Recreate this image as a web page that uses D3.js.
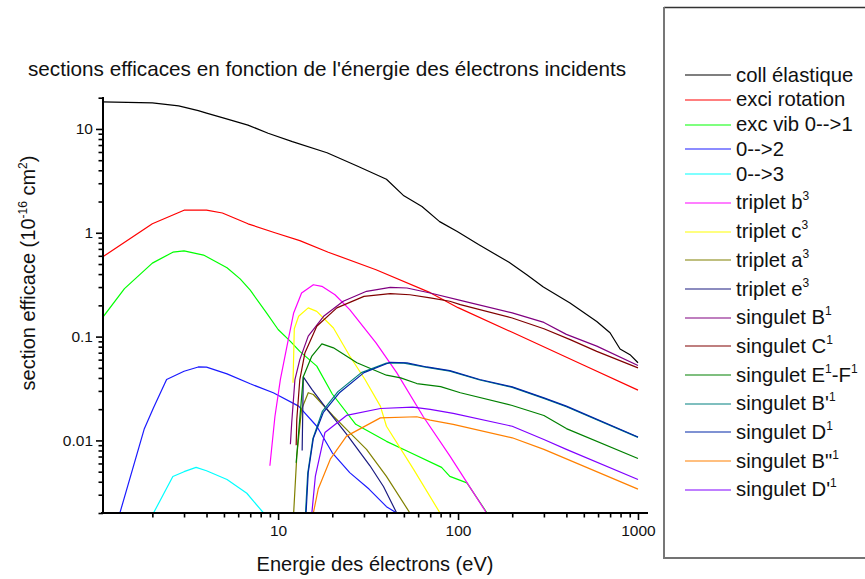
<!DOCTYPE html>
<html>
<head>
<meta charset="utf-8">
<script src="https://cdn.jsdelivr.net/npm/d3@7"></script>
<style>
  body { margin: 0; background: #fff; }
  text { font-family: Arial, "Liberation Sans", sans-serif; fill: #111; }
</style>
</head>
<body>
<svg id="chart"></svg>
<script>
// chart data: [energy eV, cross section 1e-16 cm2]
const collElastique = [[1.05,18.2],[2,17.8],[2.8,16.7],[3.6,15.0],[4,14.2],[5,12.7],[6.8,10.9],[8.8,9.1],[12,7.55],[18.7,5.9],[27.5,4.4],[40,3.28],[50,2.27],[63,1.79],[79,1.28],[99,1.03],[130,0.77],[192,0.52],[241,0.395],[298,0.30],[419,0.211],[590,0.14],[699,0.109],[795,0.076],[903,0.067],[1000,0.056]];
const exciRotation = [[1.05,0.58],[2,1.22],[3,1.65],[4,1.65],[4.9,1.55],[6.8,1.22],[9.6,1.0],[13.2,0.84],[19,0.65],[35,0.44],[70,0.265],[100,0.19],[200,0.11],[500,0.053],[1000,0.0305]];
const vib01 = [[1.05,0.15],[1.4,0.29],[2,0.51],[2.6,0.65],[3,0.67],[3.85,0.61],[5.2,0.46],[6.15,0.36],[7,0.28],[8.6,0.17],[10,0.117],[11.7,0.09],[13.2,0.072],[16.4,0.052],[20,0.028],[27,0.0143],[40,0.0098],[52,0.0079],[81,0.0055],[90,0.0045],[112,0.0039],[145,0.002]];
const vib02 = [[1.32,0.002],[1.8,0.0128],[2.03,0.0206],[2.4,0.0386],[3,0.0464],[3.6,0.051],[4,0.0508],[5.2,0.0438],[7,0.0351],[9.4,0.0288],[13,0.0214],[16.4,0.0137],[20,0.0076],[25,0.0049],[32,0.0034],[40,0.0023],[45.6,0.002]];
const vib03 = [[2.03,0.002],[2.6,0.0045],[3,0.005],[3.5,0.0055],[4,0.0051],[5.2,0.0042],[6.7,0.0031],[8.3,0.002]];
const tripletB = [[9.0,0.0057],[9.6,0.017],[10.3,0.039],[11.2,0.081],[12.2,0.169],[13.5,0.263],[15.7,0.316],[17.5,0.305],[20.7,0.253],[25,0.182],[35,0.087],[45.6,0.045],[64,0.017],[90,0.0071],[144,0.002]];
const tripletC = [[12.1,0.036],[12.3,0.119],[13,0.157],[14.7,0.189],[16.4,0.175],[20.3,0.121],[25,0.065],[30.4,0.0386],[37,0.0214],[40,0.0137],[56.5,0.0053],[79.4,0.002]];
const tripletA = [[12.2,0.002],[12.7,0.0071],[13.5,0.020],[14.7,0.0288],[15.7,0.0277],[20.3,0.0171],[25,0.0119],[31,0.0082],[40,0.0045],[54,0.002]];
const tripletE = [[13.6,0.008],[13.8,0.041],[15.4,0.031],[18.7,0.0199],[24,0.0115],[32.4,0.0057],[38.5,0.0036],[45.6,0.002]];
const singB = [[11.7,0.0092],[11.9,0.0148],[12.4,0.0386],[13.2,0.06],[14.7,0.101],[17.9,0.157],[23,0.219],[31,0.273],[42,0.298],[52,0.294],[70,0.263],[103,0.223],[200,0.169],[300,0.137],[400,0.105],[590,0.081],[1000,0.0526]];
const singC = [[12.6,0.009],[12.7,0.016],[13.2,0.0386],[14.1,0.07],[16.4,0.126],[21.2,0.189],[30,0.244],[42,0.259],[54,0.253],[70,0.236],[90,0.219],[103,0.203],[200,0.151],[300,0.119],[420,0.0935],[590,0.072],[1000,0.05]];
const singEF = [[12.6,0.0061],[13,0.0119],[13.8,0.041],[15.4,0.065],[17.5,0.085],[20.3,0.078],[27.4,0.056],[40,0.0425],[48,0.040],[59,0.0353],[80,0.033],[103,0.0288],[200,0.0217],[300,0.0174],[400,0.013],[1000,0.0067]];
const singBp = [[14.2,0.002],[14.6,0.0048],[15.6,0.0104],[17.6,0.019],[21.5,0.0295],[29,0.045],[40,0.0555],[50,0.0556],[67,0.0505],[90,0.0465],[132,0.0382],[200,0.0324],[300,0.0254],[400,0.0211],[1000,0.0107]];
const singD = [[14.3,0.002],[14.7,0.0049],[15.7,0.0105],[17.8,0.0185],[22,0.029],[30,0.045],[42,0.0566],[52,0.0558],[67,0.051],[90,0.047],[132,0.0386],[200,0.0328],[300,0.0257],[400,0.0214],[1000,0.0108]];
const singBpp = [[15.7,0.002],[16.7,0.0034],[19.5,0.0066],[24,0.011],[37,0.0165],[59,0.0169],[70,0.0157],[94,0.0143],[200,0.0106],[300,0.0082],[1000,0.0034]];
const singDp = [[15.4,0.002],[16.1,0.0045],[18.2,0.0119],[24,0.0174],[37,0.0203],[56,0.0209],[70,0.0199],[94,0.0182],[200,0.0137],[300,0.0102],[400,0.0082],[1000,0.0042]];

// legend labels ({..} = superscript) and colours, same order
const labels = ["coll élastique","exci rotation","exc vib 0-->1","0-->2","0-->3","triplet b{3}","triplet c{3}","triplet a{3}","triplet e{3}","singulet B{1}","singulet C{1}","singulet E{1}-F{1}","singulet B'{1}",'singulet D{1}','singulet B"{1}',"singulet D'{1}"];
const colors = ["#000000","#ff0000","#00ff00","#1a1aff","#00ffff","#ff00ff","#ffff00","#808000","#1a1a80","#800080","#800000","#008000","#008080","#0026a8","#ff8000","#8000ff"];
const seriesData = [collElastique,exciRotation,vib01,vib02,vib03,tripletB,tripletC,tripletA,tripletE,singB,singC,singEF,singBp,singD,singBpp,singDp];

const yMajor = [0.01, 0.1, 1, 10];
const xMajor = [10, 100, 1000];

const width = 865, height = 579;
const svg = d3.select("#chart").attr("width", width).attr("height", height);

const x = d3.scaleLog().domain([1.05, 1108]).range([102, 646]);
const y = d3.scaleLog().domain([0.002, 20]).range([513, 97.7]);

// minor ticks 2..9 in each decade
function logTicks(lo, hi) {
  const t = [];
  for (let p = -4; p <= 4; p++) {
    for (let m = 1; m < 10; m++) {
      const v = +(m * Math.pow(10, p)).toPrecision(3);
      if (v >= lo * 0.999 && v <= hi * 1.001) t.push(v);
    }
  }
  return t;
}
const isMajor = (list) => (v) => list.some((m) => Math.abs(m - v) / m < 1e-6);

svg.append("defs").append("clipPath").attr("id", "plotclip")
  .append("rect").attr("x", 102).attr("y", 97).attr("width", 545).attr("height", 416.5);

// lines
const line = d3.line().x((d) => x(d[0])).y((d) => y(d[1]));
svg.append("g").attr("clip-path", "url(#plotclip)")
  .selectAll("path")
  .data(seriesData)
  .join("path")
  .attr("d", line)
  .attr("fill", "none")
  .attr("stroke", (d, i) => colors[i])
  .attr("stroke-width", 1.2)
  .attr("stroke-linejoin", "round");

// x axis
const xMaj = isMajor(xMajor);
const xAxis = svg.append("g")
  .attr("transform", "translate(0,513)")
  .call(d3.axisBottom(x).tickValues(logTicks(1.05, 1108)).tickSizeOuter(0).tickSizeInner(6)
    .tickFormat((d) => (xMaj(d) ? d3.format("d")(d) : "")));
xAxis.select(".domain").attr("stroke", "#000").attr("stroke-width", 2).attr("d", "M101,0H648");
xAxis.selectAll(".tick line").attr("stroke-width", 1.6).attr("y2", (d) => (xMaj(d) ? 7 : 4.5));
xAxis.selectAll(".tick").filter((d) => !xMaj(d)).select("text").remove();
xAxis.selectAll(".tick text").attr("y", 12).attr("font-size", 15.5).attr("fill", "#111")
  .attr("font-family", "Arial, 'Liberation Sans', sans-serif");

// y axis
const yMaj = isMajor(yMajor);
const yAxis = svg.append("g")
  .attr("transform", "translate(103,0)")
  .call(d3.axisLeft(y).tickValues(logTicks(0.002, 20)).tickSizeOuter(0).tickSizeInner(6)
    .tickFormat((d) => (yMaj(d) ? String(d) : "")));
yAxis.select(".domain").attr("stroke", "#000").attr("stroke-width", 2).attr("d", "M0,97V514");
yAxis.selectAll(".tick line").attr("stroke-width", 1.6).attr("x2", (d) => (yMaj(d) ? -7 : -4.5));
yAxis.selectAll(".tick").filter((d) => !yMaj(d)).select("text").remove();
yAxis.selectAll(".tick text").attr("x", -10).attr("font-size", 15.5).attr("fill", "#111")
  .attr("font-family", "Arial, 'Liberation Sans', sans-serif");

// helper: write text with {..} superscripts
function richText(sel, str, supSize, rise) {
  const parts = str.split(/(\{[^}]*\})/).filter((s) => s.length);
  parts.forEach((p) => {
    if (p[0] === "{") {
      sel.append("tspan").attr("baseline-shift", rise).attr("font-size", supSize).text(p.slice(1, -1));
    } else {
      sel.append("tspan").text(p);
    }
  });
}

// title and axis labels
svg.append("text").attr("x", 28).attr("y", 76).attr("font-size", 20.7)
  .text("sections efficaces en fonction de l'énergie des électrons incidents");

svg.append("text").attr("x", 375).attr("y", 571).attr("font-size", 20)
  .attr("text-anchor", "middle").text("Energie des électrons (eV)");

const yl = svg.append("text").attr("transform", "translate(35,273) rotate(-90)")
  .attr("font-size", 20).attr("text-anchor", "middle");
richText(yl, "section efficace (10{-16} cm{2})", 12, 8);

// legend box
const lg = svg.append("g");
lg.append("line").attr("x1", 664).attr("x2", 870).attr("y1", 7.5).attr("y2", 7.5).attr("stroke", "#333").attr("stroke-width", 1.5);
lg.append("line").attr("x1", 664).attr("x2", 870).attr("y1", 558).attr("y2", 558).attr("stroke", "#444").attr("stroke-width", 1.5);
lg.append("line").attr("x1", 664).attr("x2", 664).attr("y1", 7).attr("y2", 559).attr("stroke", "#777").attr("stroke-width", 2);

let ly = 75;
labels.forEach((lab, i) => {
  if (i > 0) ly += lab.includes("{") ? 28.7 : 24.8;
  lg.append("line").attr("x1", 685).attr("x2", 731).attr("y1", Math.round(ly)).attr("y2", Math.round(ly))
    .attr("stroke", colors[i]).attr("stroke-width", 1.2);
  const t = lg.append("text").attr("x", 736).attr("y", ly + 6.5).attr("font-size", 20.3);
  richText(t, lab, 12, 9);
});
</script>
</body>
</html>
